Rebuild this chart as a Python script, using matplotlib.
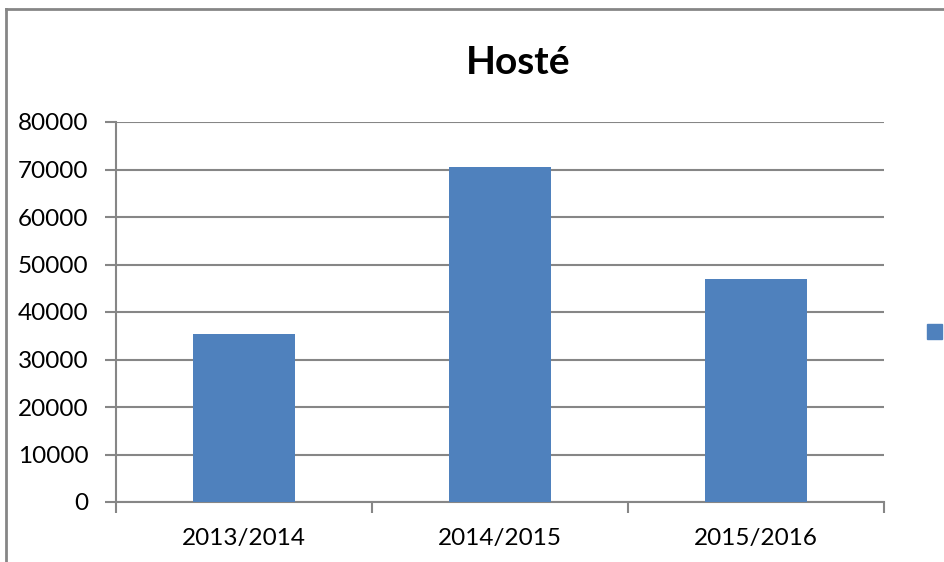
import matplotlib.pyplot as plt
from matplotlib.patches import Rectangle

plt.rcParams['font.family'] = ['Lato', 'DejaVu Sans']

seasons = ['2013/2014', '2014/2015', '2015/2016']
guests = [35400, 70500, 47000]
yticks = [0, 10000, 20000, 30000, 40000, 50000, 60000, 70000, 80000]

bar_color = '#4F81BD'
grid_color = '#868686'

fig = plt.figure(figsize=(9.45, 5.62), dpi=100)
ax = fig.add_axes([116/945, 1 - 502/562, 768/945, 380/562])

x = range(len(seasons))
ax.bar(x, guests, width=0.4, color=bar_color, zorder=3)

ax.set_xlim(-0.5, len(seasons) - 0.5)
ax.set_ylim(0, 80000)
ax.set_yticks(yticks)
ax.set_yticklabels([str(v) for v in yticks], fontsize=17.5)
ax.yaxis.grid(True, color=grid_color, linewidth=1.5, zorder=0)

# category labels centered, tick marks at category boundaries
ax.set_xticks(list(x))
ax.set_xticklabels(seasons, fontsize=17.5)
ax.tick_params(axis='x', length=0, pad=19)
ax.set_xticks([i - 0.5 for i in range(len(seasons) + 1)], minor=True)
ax.tick_params(axis='x', which='minor', length=8, width=1.5, color=grid_color, direction='out')
ax.tick_params(axis='y', length=8, width=1.5, color=grid_color, direction='out', pad=12)

for side in ['top', 'right']:
    ax.spines[side].set_visible(False)
for side in ['left', 'bottom']:
    ax.spines[side].set_color(grid_color)
    ax.spines[side].set_linewidth(1.5)

fig.text(518/945, 1 - 63/562, 'Hosté', fontsize=28, fontweight='bold',
         ha='center', va='center')

# legend marker without label
fig.patches.append(Rectangle((927/945, 1 - 339/562), 15/945, 15/562,
                             transform=fig.transFigure, color=bar_color))

# chart area border (partially visible)
fig.add_artist(plt.Line2D([6/945, 6/945], [0, 1 - 9/562], transform=fig.transFigure,
                          color=grid_color, linewidth=2))
fig.add_artist(plt.Line2D([6/945, 1], [1 - 9/562, 1 - 9/562], transform=fig.transFigure,
                          color=grid_color, linewidth=2))

fig.savefig('out.png', dpi=100)
